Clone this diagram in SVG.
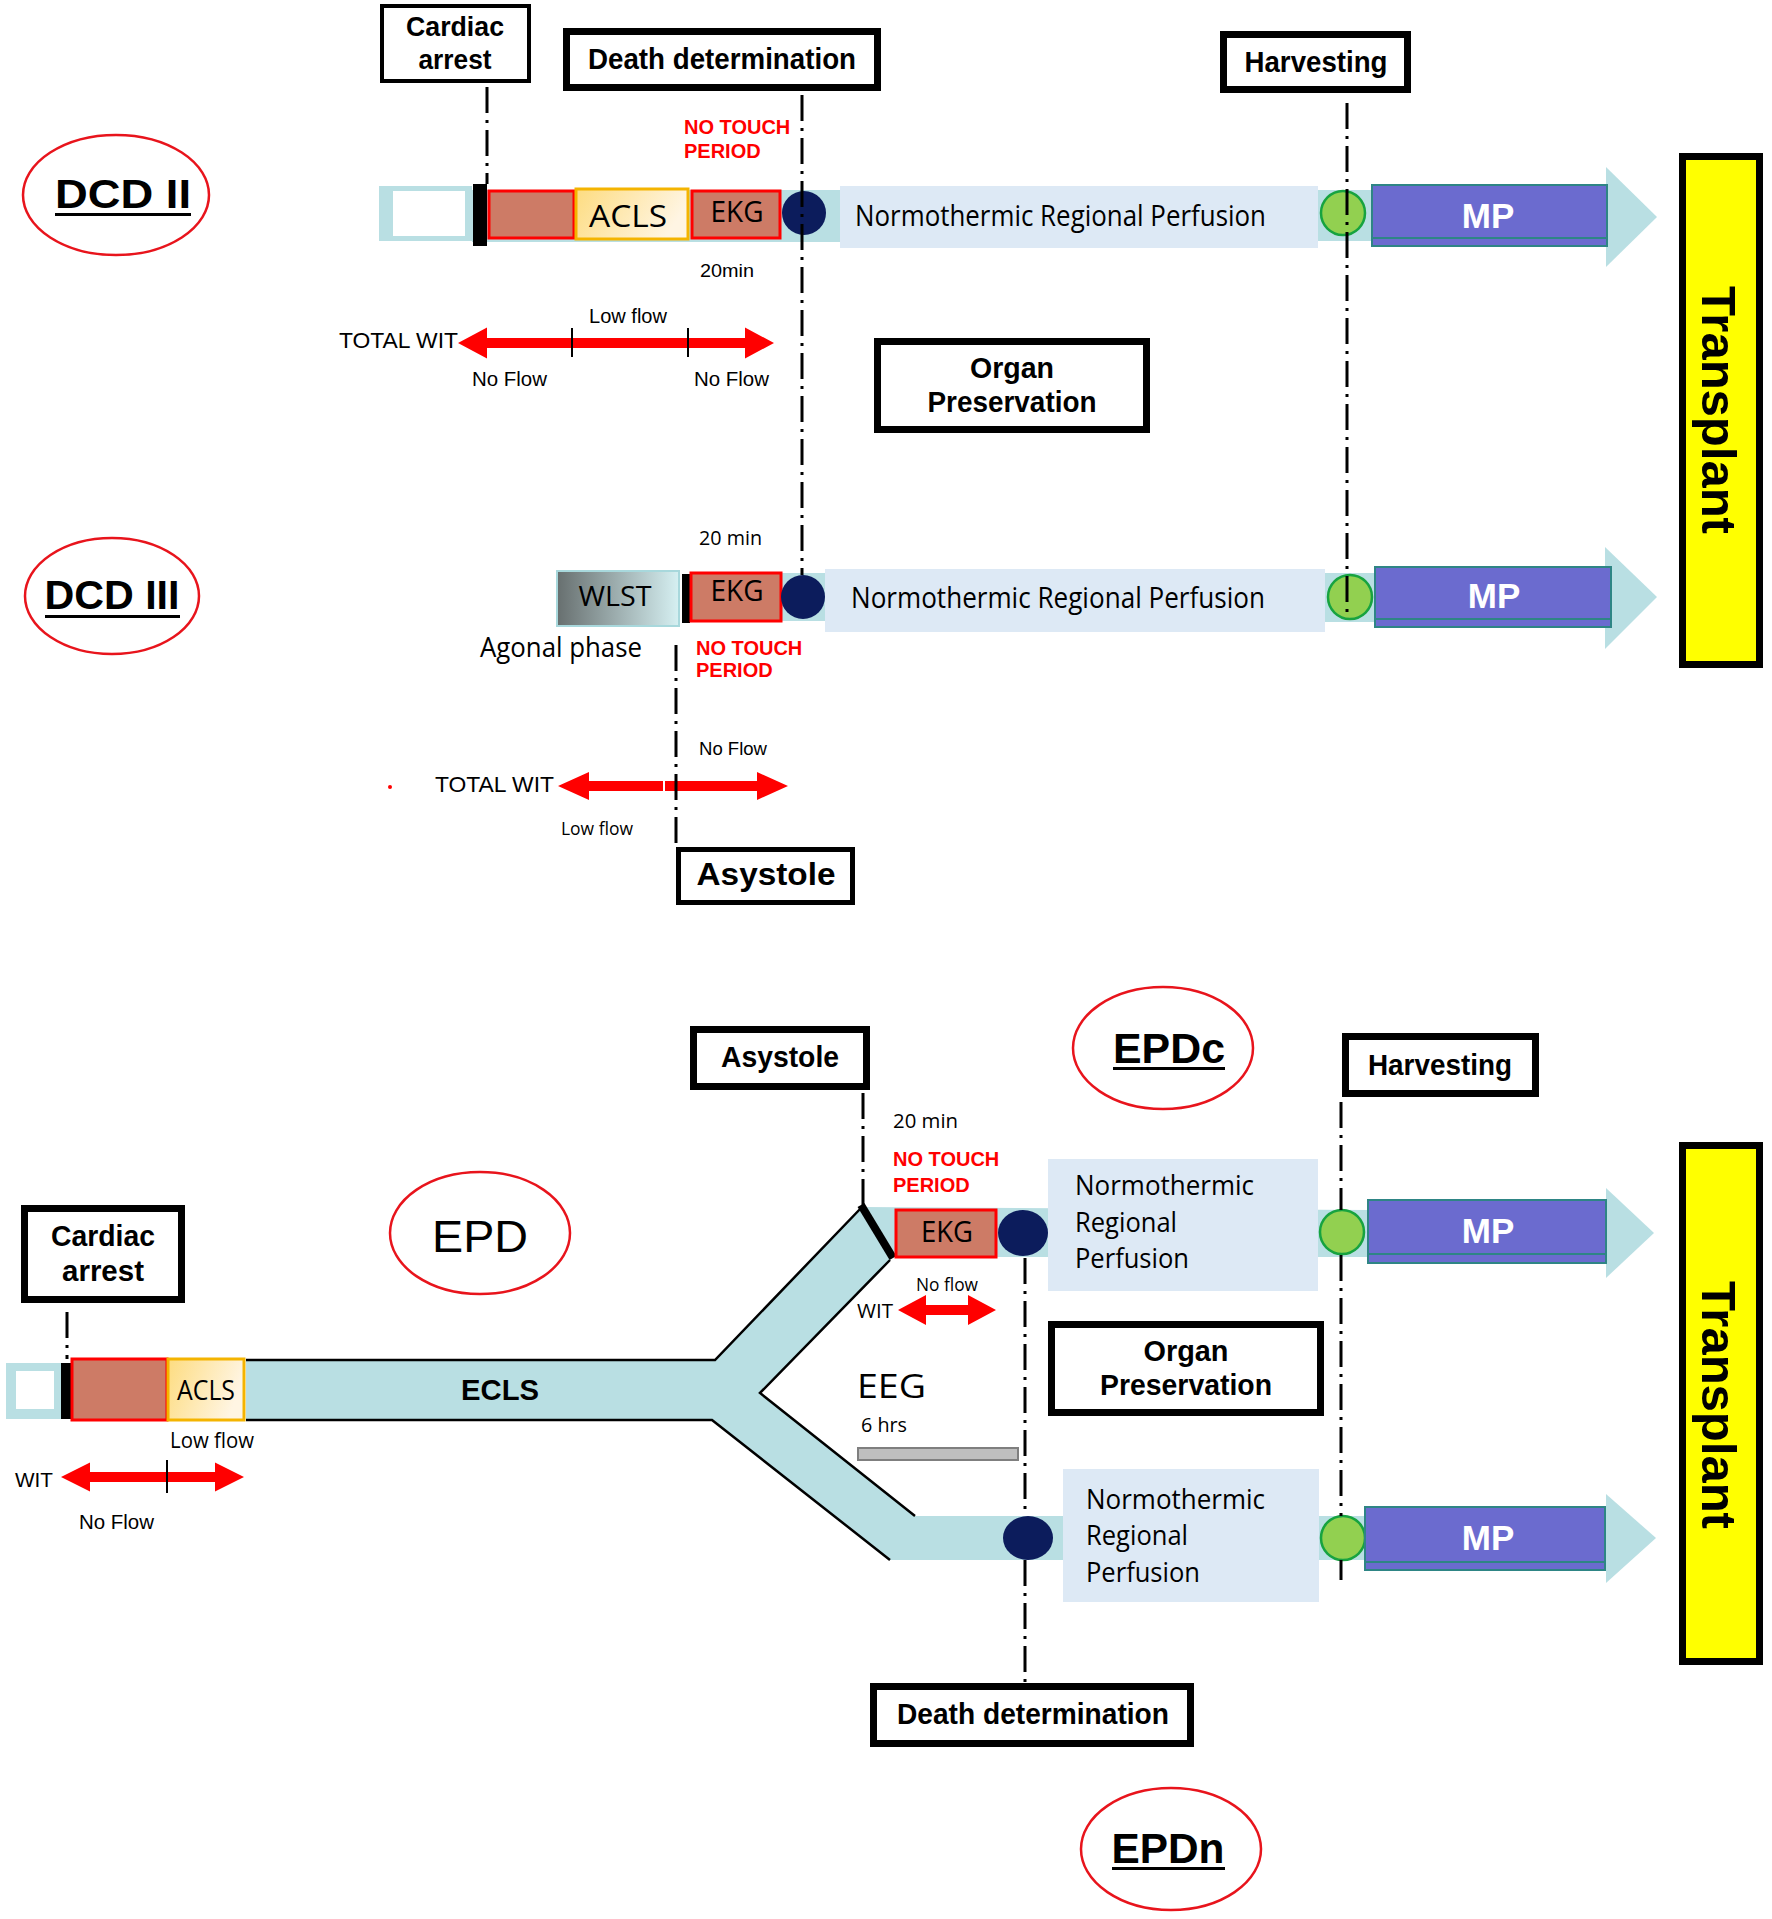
<svg xmlns="http://www.w3.org/2000/svg" width="1772" height="1919" viewBox="0 0 1772 1919">
<style>
.box{fill:#fff;stroke:#000}
.b{font-family:"Liberation Sans",Arial,sans-serif;font-weight:bold;fill:#000}
.r{font-family:"Liberation Sans",Arial,sans-serif;fill:#000}
.c{font-family:"Open Sans","Liberation Sans",sans-serif;fill:#000}
.red{font-family:"Liberation Sans",Arial,sans-serif;font-weight:bold;fill:#ff0000;font-size:20px}
.mid{text-anchor:middle}
.oval{fill:#fff;stroke:#e8141c;stroke-width:2.5}
.band{fill:#b9dfe3}
.nrp{fill:#dde9f5}
.brown{fill:#cd7b66;stroke:#ff0000;stroke-width:3}
.navy{fill:#0c1c5c}
.green{fill:#92d050;stroke:#17a340;stroke-width:2.5}
.mp{fill:#6b6bcf;stroke:#2e8585;stroke-width:2}
.mpt{font-family:"Liberation Sans",Arial,sans-serif;font-weight:bold;fill:#fff;font-size:35px;text-anchor:middle}
.head{fill:#b9dfe3}
.dd{stroke:#000;stroke-width:3;stroke-dasharray:26 7 3 7;fill:none}
.edge{stroke:#000;stroke-width:2.5;fill:none}
.warrow{fill:#ff0000}
.tick{stroke:#000;stroke-width:2}
.yel{fill:#ffff00;stroke:#000;stroke-width:7}
</style>
<defs>
<linearGradient id="acls" x1="0" y1="0" x2="1" y2="0.3">
<stop offset="0" stop-color="#fddc80"/><stop offset="1" stop-color="#fff5e3"/>
</linearGradient>
<linearGradient id="wlst" x1="0" y1="0" x2="1" y2="0">
<stop offset="0" stop-color="#676f6f"/><stop offset="1" stop-color="#d6f0f2"/>
</linearGradient>
</defs>
<rect width="1772" height="1919" fill="#fff"/>

<!-- ===== DCD II ===== -->
<g id="dcd2-label">
<ellipse class="oval" cx="116" cy="195" rx="93" ry="60"/>
<text class="b mid" x="123" y="208" font-size="41" textLength="136" lengthAdjust="spacingAndGlyphs">DCD II</text>
<rect x="55" y="213" width="136" height="3" fill="#000"/>
</g>
<g id="cardiac-arrest-1">
<rect class="box" x="382" y="6" width="147" height="75" stroke-width="4"/>
<text class="b mid" x="455" y="36" font-size="27" textLength="98" lengthAdjust="spacingAndGlyphs">Cardiac</text>
<text class="b mid" x="455" y="69" font-size="27" textLength="73" lengthAdjust="spacingAndGlyphs">arrest</text>
</g>
<g id="death-determination-1">
<rect class="box" x="566.5" y="31.5" width="311" height="56" stroke-width="7"/>
<text class="b mid" x="722" y="69" font-size="30" textLength="268" lengthAdjust="spacingAndGlyphs">Death determination</text>
</g>
<g id="harvesting-1">
<rect class="box" x="1223.5" y="34.5" width="184" height="55" stroke-width="7"/>
<text class="b mid" x="1316" y="72" font-size="30" textLength="143" lengthAdjust="spacingAndGlyphs">Harvesting</text>
</g>
<g id="dcd2-bar">
<rect class="band" x="472" y="190" width="370" height="52"/>
<rect class="band" x="1316" y="190" width="60" height="51"/>
<rect class="band" x="379" y="186" width="93" height="55"/>
<rect x="393" y="191" width="72" height="45" fill="#fff"/>
<rect x="473" y="184" width="14" height="62" fill="#000"/>
<rect class="brown" x="489" y="191" width="85" height="47"/>
<rect x="576" y="189" width="112" height="50" fill="url(#acls)" stroke="#f4b400" stroke-width="3"/>
<text class="c mid" x="628" y="227" font-size="31" textLength="78" lengthAdjust="spacingAndGlyphs">ACLS</text>
<rect class="brown" x="692" y="191" width="88" height="47"/>
<text class="c mid" x="737" y="222" font-size="29" textLength="53" lengthAdjust="spacingAndGlyphs">EKG</text>
<circle class="navy" cx="804" cy="213" r="22"/>
<rect class="nrp" x="840" y="186" width="478" height="62"/>
<text class="c" x="855" y="226" font-size="29" textLength="411" lengthAdjust="spacingAndGlyphs">Normothermic Regional Perfusion</text>
<circle class="green" cx="1343" cy="213" r="22"/>
<polygon class="head" points="1606,167 1657,217 1606,267"/>
<rect class="mp" x="1372" y="185" width="235" height="61"/>
<line x1="1372" y1="238" x2="1607" y2="238" stroke="#2e8585" stroke-width="2"/>
<text class="mpt" x="1488" y="228">MP</text>
</g>
<g id="dcd2-notes">
<text class="red" x="684" y="134">NO TOUCH</text>
<text class="red" x="684" y="158">PERIOD</text>
<text class="r" x="700" y="277" font-size="19" textLength="54" lengthAdjust="spacingAndGlyphs">20min</text>
</g>
<g id="dcd2-wit">
<polygon class="warrow" points="458,343 487,327.5 487,338 745,338 745,327.5 774,343 745,358.5 745,348 487,348 487,358.5"/>
<line class="tick" x1="572" y1="328" x2="572" y2="357"/>
<line class="tick" x1="688" y1="328" x2="688" y2="357"/>
<text class="r" x="339" y="348" font-size="22" textLength="119" lengthAdjust="spacingAndGlyphs">TOTAL WIT</text>
<text class="r" x="589" y="323" font-size="20" textLength="78" lengthAdjust="spacingAndGlyphs">Low flow</text>
<text class="r" x="472" y="386" font-size="20" textLength="75" lengthAdjust="spacingAndGlyphs">No Flow</text>
<text class="r" x="694" y="386" font-size="20" textLength="75" lengthAdjust="spacingAndGlyphs">No Flow</text>
</g>
<g id="organ-preservation-1">
<rect class="box" x="877.5" y="341.5" width="269" height="88" stroke-width="7"/>
<text class="b mid" x="1012" y="378" font-size="29" textLength="84" lengthAdjust="spacingAndGlyphs">Organ</text>
<text class="b mid" x="1012" y="412" font-size="29" textLength="169" lengthAdjust="spacingAndGlyphs">Preservation</text>
</g>
<g id="transplant-1">
<rect class="yel" x="1682.5" y="156.5" width="77" height="508"/>
<text class="b mid" transform="translate(1702 410) rotate(90)" font-size="49">Transplant</text>
</g>

<!-- ===== DCD III ===== -->
<g id="dcd3-label">
<ellipse class="oval" cx="112" cy="596" rx="87" ry="58"/>
<text class="b mid" x="112" y="609" font-size="41" textLength="135" lengthAdjust="spacingAndGlyphs">DCD III</text>
<rect x="45" y="615" width="135" height="3" fill="#000"/>
</g>
<g id="dcd3-bar">
<rect class="band" x="781" y="573" width="48" height="48"/>
<rect class="band" x="1322" y="573" width="56" height="49"/>
<rect x="557" y="571" width="122" height="55" fill="url(#wlst)" stroke="#a8d8dc" stroke-width="2"/>
<text class="c mid" x="615" y="606" font-size="27" textLength="73" lengthAdjust="spacingAndGlyphs">WLST</text>
<rect x="682" y="574" width="8" height="49" fill="#000"/>
<rect class="brown" x="691" y="573" width="90" height="48"/>
<text class="c mid" x="737" y="601" font-size="29" textLength="53" lengthAdjust="spacingAndGlyphs">EKG</text>
<circle class="navy" cx="803" cy="597" r="22"/>
<rect class="nrp" x="825" y="569" width="500" height="63"/>
<text class="c" x="851" y="608" font-size="29" textLength="414" lengthAdjust="spacingAndGlyphs">Normothermic Regional Perfusion</text>
<circle class="green" cx="1350" cy="597" r="22"/>
<polygon class="head" points="1605,547 1657,597 1605,649"/>
<rect class="mp" x="1375" y="567" width="236" height="60"/>
<line x1="1375" y1="619" x2="1611" y2="619" stroke="#2e8585" stroke-width="2"/>
<text class="mpt" x="1494" y="608">MP</text>
</g>
<g id="dcd3-notes">
<text class="c" x="699" y="545" font-size="20" textLength="63" lengthAdjust="spacingAndGlyphs">20 min</text>
<text class="c" x="480" y="657" font-size="28" textLength="162" lengthAdjust="spacingAndGlyphs">Agonal phase</text>
<text class="red" x="696" y="655">NO TOUCH</text>
<text class="red" x="696" y="677">PERIOD</text>
<text class="r" x="699" y="755" font-size="19" textLength="68" lengthAdjust="spacingAndGlyphs">No Flow</text>
</g>
<g id="dcd3-wit">
<polygon class="warrow" points="558,786 589,772 589,781 757,781 757,772 788,786 757,800 757,791 589,791 589,800"/>
<line x1="664" y1="779" x2="664" y2="793" stroke="#fff" stroke-width="2"/>
<circle cx="390" cy="787" r="2" fill="#ff0000"/>
<text class="r" x="435" y="792" font-size="22" textLength="119" lengthAdjust="spacingAndGlyphs">TOTAL WIT</text>
<text class="c" x="561" y="835" font-size="19" textLength="72" lengthAdjust="spacingAndGlyphs">Low flow</text>
</g>
<g id="asystole-1">
<rect class="box" x="678.5" y="849.5" width="174" height="53" stroke-width="5"/>
<text class="b mid" x="766" y="885" font-size="32" textLength="139" lengthAdjust="spacingAndGlyphs">Asystole</text>
</g>

<!-- ===== EPD ===== -->
<g id="epd-label">
<ellipse class="oval" cx="480" cy="1233" rx="90" ry="61"/>
<text class="r mid" x="480" y="1252" font-size="45" textLength="96" lengthAdjust="spacingAndGlyphs">EPD</text>
</g>
<g id="epdc-label">
<ellipse class="oval" cx="1163" cy="1048" rx="90" ry="61"/>
<text class="b mid" x="1169" y="1063" font-size="42" textLength="112" lengthAdjust="spacingAndGlyphs">EPDc</text>
<rect x="1113" y="1067" width="112" height="3" fill="#000"/>
</g>
<g id="epdn-label">
<ellipse class="oval" cx="1171" cy="1849" rx="90" ry="61"/>
<text class="b mid" x="1168" y="1863" font-size="42" textLength="113" lengthAdjust="spacingAndGlyphs">EPDn</text>
<rect x="1112" y="1867" width="113" height="3" fill="#000"/>
</g>
<g id="cardiac-arrest-2">
<rect class="box" x="24.5" y="1208.5" width="157" height="91" stroke-width="7"/>
<text class="b mid" x="103" y="1246" font-size="29" textLength="104" lengthAdjust="spacingAndGlyphs">Cardiac</text>
<text class="b mid" x="103" y="1281" font-size="29" textLength="82" lengthAdjust="spacingAndGlyphs">arrest</text>
</g>
<g id="asystole-2">
<rect class="box" x="693.5" y="1029.5" width="173" height="57" stroke-width="7"/>
<text class="b mid" x="780" y="1067" font-size="29" textLength="118" lengthAdjust="spacingAndGlyphs">Asystole</text>
</g>
<g id="harvesting-2">
<rect class="box" x="1345.5" y="1036.5" width="190" height="57" stroke-width="7"/>
<text class="b mid" x="1440" y="1075" font-size="30" textLength="144" lengthAdjust="spacingAndGlyphs">Harvesting</text>
</g>
<g id="ecls-bar">
<polygon class="band" points="246,1360 715,1360 862,1207 1370,1210 1370,1257 893,1257 890,1260 760,1393 915,1516 1370,1516 1370,1560 890,1560 712,1420 246,1420"/>
<polyline class="edge" points="246,1360 715,1360 862,1207"/>
<polyline class="edge" points="890,1260 760,1393 915,1516"/>
<polyline class="edge" points="246,1420 712,1420 890,1560"/>
<line x1="861" y1="1205" x2="893" y2="1258" stroke="#000" stroke-width="8"/>
<text class="b mid" x="500" y="1400" font-size="30" textLength="78" lengthAdjust="spacingAndGlyphs">ECLS</text>
<rect class="band" x="6" y="1363" width="55" height="56"/>
<rect x="16" y="1371" width="38" height="38" fill="#fff"/>
<rect x="61" y="1363" width="11" height="56" fill="#000"/>
<rect class="brown" x="72" y="1359" width="95" height="61"/>
<rect x="168" y="1359" width="76" height="61" fill="url(#acls)" stroke="#f4b400" stroke-width="3"/>
<text class="c mid" x="206" y="1400" font-size="28" textLength="58" lengthAdjust="spacingAndGlyphs">ACLS</text>
</g>
<g id="epdc-bar">
<rect class="brown" x="896" y="1210" width="100" height="47"/>
<text class="c mid" x="947" y="1242" font-size="29" textLength="52" lengthAdjust="spacingAndGlyphs">EKG</text>
<ellipse class="navy" cx="1023" cy="1233" rx="25" ry="23"/>
<rect class="nrp" x="1048" y="1159" width="270" height="132"/>
<text class="c" x="1075" y="1195" font-size="28" textLength="179" lengthAdjust="spacingAndGlyphs">Normothermic</text>
<text class="c" x="1075" y="1232" font-size="28" textLength="102" lengthAdjust="spacingAndGlyphs">Regional</text>
<text class="c" x="1075" y="1268" font-size="28" textLength="114" lengthAdjust="spacingAndGlyphs">Perfusion</text>
<circle class="green" cx="1342" cy="1232" r="22"/>
<polygon class="head" points="1606,1188 1654,1233 1606,1278"/>
<rect class="mp" x="1368" y="1200" width="238" height="63"/>
<line x1="1368" y1="1254" x2="1606" y2="1254" stroke="#2e8585" stroke-width="2"/>
<text class="mpt" x="1488" y="1243">MP</text>
</g>
<g id="epdn-bar">
<ellipse class="navy" cx="1028" cy="1538" rx="25" ry="22"/>
<rect class="nrp" x="1063" y="1469" width="256" height="133"/>
<text class="c" x="1086" y="1509" font-size="28" textLength="179" lengthAdjust="spacingAndGlyphs">Normothermic</text>
<text class="c" x="1086" y="1545" font-size="28" textLength="102" lengthAdjust="spacingAndGlyphs">Regional</text>
<text class="c" x="1086" y="1582" font-size="28" textLength="114" lengthAdjust="spacingAndGlyphs">Perfusion</text>
<circle class="green" cx="1343" cy="1538" r="22"/>
<polygon class="head" points="1606,1494 1656,1538 1606,1583"/>
<rect class="mp" x="1365" y="1507" width="240" height="63"/>
<line x1="1365" y1="1562" x2="1605" y2="1562" stroke="#2e8585" stroke-width="2"/>
<text class="mpt" x="1488" y="1550">MP</text>
</g>
<g id="epd-notes">
<text class="c" x="893" y="1128" font-size="20" textLength="65" lengthAdjust="spacingAndGlyphs">20 min</text>
<text class="red" x="893" y="1166">NO TOUCH</text>
<text class="red" x="893" y="1192">PERIOD</text>
<text class="c" x="916" y="1291" font-size="19" textLength="62" lengthAdjust="spacingAndGlyphs">No flow</text>
<text class="c" x="857" y="1318" font-size="20" textLength="36" lengthAdjust="spacingAndGlyphs">WIT</text>
<polygon class="warrow" points="898,1310 926,1295 926,1305 968,1305 968,1295 996,1310 968,1325 968,1315 926,1315 926,1325"/>
<text class="c" x="857" y="1398" font-size="32" textLength="69" lengthAdjust="spacingAndGlyphs">EEG</text>
<text class="c" x="861" y="1432" font-size="20" textLength="46" lengthAdjust="spacingAndGlyphs">6 hrs</text>
<rect x="858" y="1448" width="160" height="12" fill="#bfbfbf" stroke="#7f7f7f" stroke-width="2"/>
<text class="c" x="170" y="1448" font-size="21" textLength="84" lengthAdjust="spacingAndGlyphs">Low flow</text>
<polygon class="warrow" points="61,1477 90,1462.5 90,1472 215,1472 215,1462.5 244,1477 215,1491.5 215,1482 90,1482 90,1491.5"/>
<line class="tick" x1="167" y1="1460" x2="167" y2="1493"/>
<text class="r" x="15" y="1487" font-size="21" textLength="38" lengthAdjust="spacingAndGlyphs">WIT</text>
<text class="r" x="79" y="1529" font-size="20" textLength="75" lengthAdjust="spacingAndGlyphs">No Flow</text>
</g>
<g id="organ-preservation-2">
<rect class="box" x="1051.5" y="1324.5" width="269" height="88" stroke-width="7"/>
<text class="b mid" x="1186" y="1361" font-size="29" textLength="85" lengthAdjust="spacingAndGlyphs">Organ</text>
<text class="b mid" x="1186" y="1395" font-size="29" textLength="172" lengthAdjust="spacingAndGlyphs">Preservation</text>
</g>
<g id="death-determination-2">
<rect class="box" x="873.5" y="1686.5" width="317" height="57" stroke-width="7"/>
<text class="b mid" x="1033" y="1724" font-size="30" textLength="272" lengthAdjust="spacingAndGlyphs">Death determination</text>
</g>
<g id="transplant-2">
<rect class="yel" x="1682.5" y="1145.5" width="77" height="516"/>
<text class="b mid" transform="translate(1702 1405) rotate(90)" font-size="49">Transplant</text>
</g>

<!-- ===== connectors ===== -->
<g id="connectors">
<line class="dd" x1="487" y1="87" x2="487" y2="184"/>
<line class="dd" x1="802" y1="95" x2="802" y2="575"/>
<line class="dd" x1="1347" y1="103" x2="1347" y2="618"/>
<line class="dd" x1="676" y1="645" x2="676" y2="847"/>
<line class="dd" x1="67" y1="1312" x2="67" y2="1359"/>
<line class="dd" x1="863" y1="1093" x2="863" y2="1205"/>
<line class="dd" x1="1025" y1="1258" x2="1025" y2="1516"/>
<line class="dd" x1="1025" y1="1560" x2="1025" y2="1683"/>
<line class="dd" x1="1341" y1="1102" x2="1341" y2="1210"/>
<line class="dd" x1="1341" y1="1255" x2="1341" y2="1516"/>
<line class="dd" x1="1341" y1="1560" x2="1341" y2="1580"/>
</g>
</svg>
